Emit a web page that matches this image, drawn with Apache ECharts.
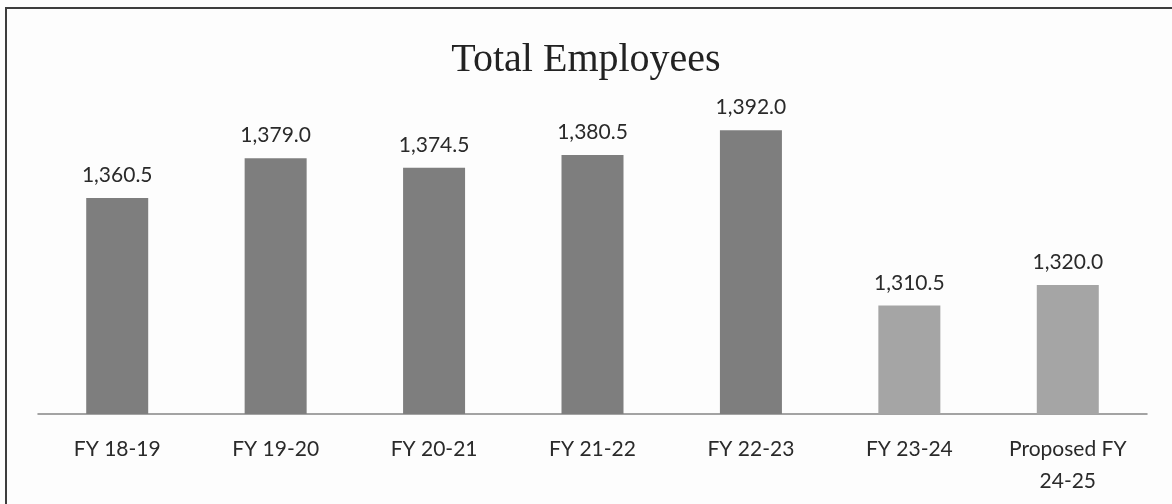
<!DOCTYPE html>
<html>
<head>
<meta charset="utf-8">
<script src="https://cdn.jsdelivr.net/npm/echarts@6/dist/echarts.min.js"></script>
<style>
  html, body { margin: 0; padding: 0; background: #fdfdfd; }
  #chart { width: 1172px; height: 504px; }
</style>
</head>
<body>
<div id="chart"></div>
<script>
// fiscal years shown on the x axis
const years = ['FY 18-19', 'FY 19-20', 'FY 20-21', 'FY 21-22', 'FY 22-23', 'FY 23-24', 'Proposed FY\n24-25'];
// total employees (FTE)
const employees = [1360.5, 1379.0, 1374.5, 1380.5, 1392.0, 1310.5, 1320.0];

const fmt = new Intl.NumberFormat('en-US', { minimumFractionDigits: 1, maximumFractionDigits: 1 });
const labelFont = 'Lato, "Liberation Sans", sans-serif';

const chart = echarts.init(document.getElementById('chart'), null, { renderer: 'canvas' });

chart.setOption({
  backgroundColor: '#fdfdfd',
  animation: false,
  title: {
    text: 'Total Employees',
    left: 'center',
    top: 35,
    textStyle: {
      fontFamily: '"Liberation Serif", "DejaVu Serif", serif',
      fontWeight: 'normal',
      fontSize: 40,
      color: '#222'
    }
  },
  grid: { left: 38, right: 25, top: 113, bottom: 90 },
  xAxis: {
    type: 'category',
    data: years,
    axisLine: { lineStyle: { color: '#858585', width: 1.5 } },
    axisTick: { show: false },
    axisLabel: {
      margin: 19,
      fontFamily: labelFont,
      fontSize: 21,
      lineHeight: 32,
      color: '#2a2a2a'
    }
  },
  yAxis: {
    type: 'value',
    min: 1260,
    max: 1400,
    show: false,
    splitLine: { show: false }
  },
  series: [{
    type: 'bar',
    data: employees,
    barWidth: 62,
    itemStyle: {
      // last two years drawn lighter, as in the original
      color: p => (p.dataIndex < 5 ? '#7e7e7e' : '#a5a5a5')
    },
    label: {
      show: true,
      position: 'top',
      distance: 12,
      formatter: p => fmt.format(p.value),
      fontFamily: labelFont,
      fontSize: 21,
      color: '#2a2a2a'
    }
  }],
  graphic: [
    { type: 'line', shape: { x1: 6, y1: 8, x2: 6, y2: 504 }, style: { stroke: '#3d3d3d', lineWidth: 2 } },
    { type: 'line', shape: { x1: 5, y1: 8, x2: 1172, y2: 8 }, style: { stroke: '#3d3d3d', lineWidth: 2 } }
  ]
});
</script>
</body>
</html>
